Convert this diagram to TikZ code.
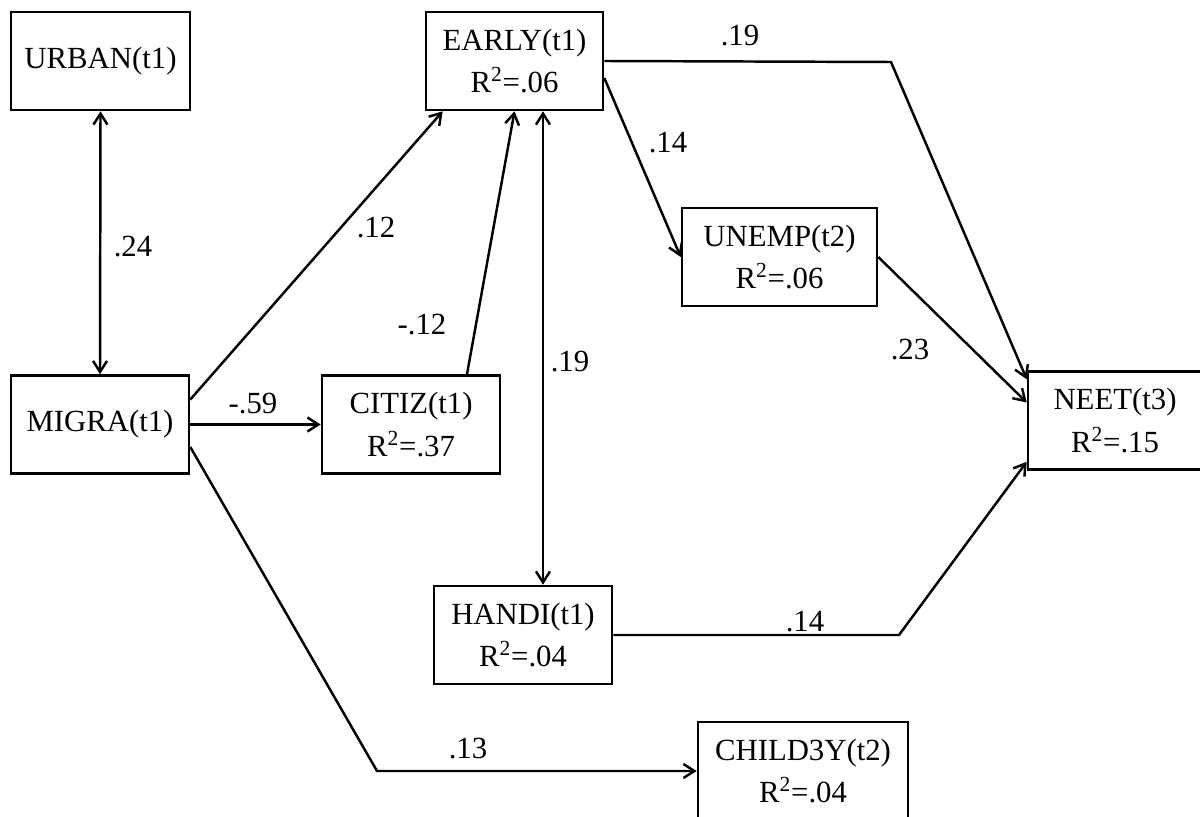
\documentclass[tikz,border=0pt]{standalone}
\usepackage{fontspec}
\setmainfont{Liberation Serif}
\usetikzlibrary{arrows.meta,positioning,calc}

\begin{document}
\begin{tikzpicture}[x=0.02cm,y=-0.02cm,
  var/.style={draw,line width=1.5pt,inner sep=0pt,align=center,minimum height=1.96cm,font=\fontsize{17.5}{24}\selectfont},
  coef/.style={inner sep=0pt,font=\fontsize{17.5}{20}\selectfont},
  path/.style={line width=1.4pt,-{Straight Barb[length=2.2mm,width=2.8mm,line width=1.4pt]}},
  cov/.style={line width=1.4pt,{Straight Barb[length=2.2mm,width=2.8mm,line width=1.4pt]}-{Straight Barb[length=2.2mm,width=2.8mm,line width=1.4pt]}}]
\useasboundingbox (0,0) rectangle (1200,817);
% variables
\node[var,minimum width=3.58cm] (urban) at (100.5,61){URBAN(t1)};
\node[var,minimum width=3.54cm] (early) at (514.5,61){EARLY(t1)\\R\textsuperscript{2}=.06};
\node[var,minimum width=3.56cm] (migra) at (100,424.5){MIGRA(t1)};
\node[var,minimum width=3.56cm] (citiz) at (411,424.5){CITIZ(t1)\\R\textsuperscript{2}=.37};
\node[var,minimum width=3.9cm] (unemp) at (779.5,257){UNEMP(t2)\\R\textsuperscript{2}=.06};
\node[var,minimum width=3.48cm] (neet) at (1115,420.5){NEET(t3)\\R\textsuperscript{2}=.15};
\node[var,minimum width=3.56cm] (handi) at (523,635){HANDI(t1)\\R\textsuperscript{2}=.04};
\node[var,minimum width=4.2cm] (child) at (803,771){CHILD3Y(t2)\\R\textsuperscript{2}=.04};
% bends
\coordinate (bendtop) at (891,62);
\coordinate (bendhandi) at (899,635);
\coordinate (bendchild) at (377,771);
% paths
\draw[cov] (urban.south) -- (migra.north);
\draw[path] ([yshift=0.5cm]migra.east) -- ([xshift=0.36cm]early.south west);
\draw[path] (migra.east) -- (citiz.west);
\draw[path] ([xshift=1.12cm]citiz.north) -- (early.south);
\draw[cov] ([xshift=0.57cm]early.south) -- ([xshift=0.57cm]early.south |- handi.north);
\draw[path] ([yshift=-0.34cm]early.east) -- (unemp.west);
\draw[path] (early.east) -- (bendtop) -- ([yshift=-0.18cm]neet.north west);
\draw[path] (unemp.east) -- ([yshift=0.36cm]neet.west);
\draw[path] (handi.east) -- (bendhandi) -- ([yshift=0.18cm]neet.south west);
\draw[path] ([yshift=-0.45cm]migra.east) -- (bendchild) -- (child.west);
% coefficients
\node[coef] (c24) at (133,247){.24};
\node[coef] (c12) at (376,228){.12};
\node[coef] (c59) at (253,404){-.59};
\node[coef] (cm12) at (422,325){-.12};
\node[coef] (c19v) at (570,362){.19};
\node[coef] (c14u) at (668,143){.14};
\node[coef] (c19t) at (740,36){.19};
\node[coef] (c23) at (910,350){.23};
\node[coef] (c14h) at (805,622){.14};
\node[coef] (c13) at (468,749){.13};
\end{tikzpicture}
\end{document}
